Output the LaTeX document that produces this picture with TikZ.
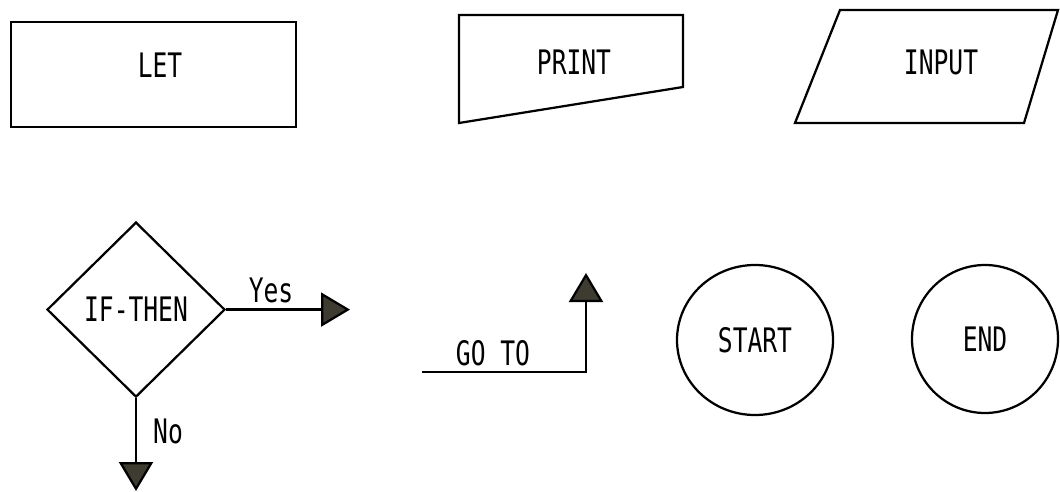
\documentclass[tikz,border=0pt]{standalone}
\usepackage{fontspec}
\newfontfamily\chartfont[FakeStretch=0.73]{DejaVu Sans Mono}
\usetikzlibrary{shapes.geometric,arrows.meta}
\definecolor{tipgray}{RGB}{62,60,48}
\begin{document}
\begin{tikzpicture}[sym/.style={draw=black,line width=1.6pt,fill=white,inner sep=0pt,font=\chartfont\fontsize{24}{28}\selectfont},txt/.style={anchor=base,inner sep=0pt,font=\chartfont\fontsize{24}{28}\selectfont},lnk/.style={line width=1.6pt,-{Triangle[length=0.725cm,width=0.85cm,fill=tipgray]}}]
\useasboundingbox (0,0) rectangle (26.5,-12.3);
\draw[line width=1.6pt] (0.275,-0.55) rectangle (7.4,-3.175);
\draw[line width=1.6pt] (11.475,-0.375) -- (17.075,-0.375) -- (17.075,-2.175) -- (11.475,-3.075) -- cycle;
\draw[line width=1.6pt] (21,-0.25) -- (26.45,-0.25) -- (25.6,-3.075) -- (19.875,-3.075) -- cycle;
\node[txt] (LT) at (4.0,-1.925) {LET};
\node[txt] (PR) at (14.35,-1.875) {PRINT};
\node[txt] (IN) at (23.525,-1.875) {INPUT};
\node[sym,diamond,minimum width=4.45cm,minimum height=4.375cm] (IF) at (3.4,-7.74) {IF-THEN};
\coordinate (IFY) at (8.75,-7.74);
\coordinate (IFN) at (3.4,-12.275);
\draw[lnk] (IF) -- (IFY);
\draw[lnk] (IF) -- (IFN);
\node[txt] (Y) at (6.775,-7.55) {Yes};
\node[txt] (N) at (4.2,-11.075) {No};
\coordinate (GA) at (10.55,-9.3);
\coordinate (GB) at (14.65,-6.825);
\draw[lnk] (GA) -| (GB);
\node[txt] (GT) at (12.325,-9.125) {GO TO};
\node[sym,ellipse,minimum width=3.9cm,minimum height=3.75cm] (ST) at (18.875,-8.5) {START};
\node[sym,ellipse,minimum width=3.65cm,minimum height=3.7cm] (EN) at (24.625,-8.475) {END};
\end{tikzpicture}
\end{document}
